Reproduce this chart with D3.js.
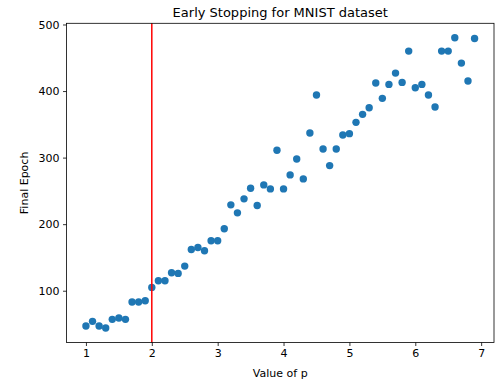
<!DOCTYPE html>
<html>
<head>
<meta charset="utf-8">
<script src="https://cdn.jsdelivr.net/npm/d3@7"></script>
<style>
  body { margin: 0; background: #fff; }
  svg text { font-family: "DejaVu Sans", sans-serif; fill: #000; }
</style>
</head>
<body>
<div id="chart"></div>
<script>
// data
var pValues = [1.0, 1.1, 1.2, 1.3, 1.4, 1.5, 1.6, 1.7, 1.8, 1.9,
               2.0, 2.1, 2.2, 2.3, 2.4, 2.5, 2.6, 2.7, 2.8, 2.9,
               3.0, 3.1, 3.2, 3.3, 3.4, 3.5, 3.6, 3.7, 3.8, 3.9,
               4.0, 4.1, 4.2, 4.3, 4.4, 4.5, 4.6, 4.7, 4.8, 4.9,
               5.0, 5.1, 5.2, 5.3, 5.4, 5.5, 5.6, 5.7, 5.8, 5.9,
               6.0, 6.1, 6.2, 6.3, 6.4, 6.5, 6.6, 6.7, 6.8, 6.9]
var finalEpochs = [47, 54, 47, 44, 57, 59, 57, 83, 83, 85,
                   105, 115, 115, 127, 126, 137, 162, 165, 160, 175,
                   175, 193, 229, 217, 238, 254, 228, 259, 253, 311,
                   253, 274, 298, 268, 337, 394, 313, 288, 313, 334,
                   336, 353, 365, 375, 412, 389, 410, 427, 413, 460,
                   405, 410, 394, 376, 460, 460, 480, 442, 415, 479]
var xTicks = [1, 2, 3, 4, 5, 6, 7]
var yTicks = [100, 200, 300, 400, 500]
var stopAt = 2

var width = 497, height = 381
var margin = { left: 66.5, right: 3, top: 23.3, bottom: 38.5 }

var svg = d3.select("#chart").append("svg")
  .attr("width", width)
  .attr("height", height)

// matplotlib style 5% padding around the data
var xExt = d3.extent(pValues), yExt = d3.extent(finalEpochs)
var xPad = (xExt[1] - xExt[0]) * 0.05, yPad = (yExt[1] - yExt[0]) * 0.05

var x = d3.scaleLinear()
  .domain([xExt[0] - xPad, xExt[1] + xPad])
  .range([margin.left, width - margin.right])
var y = d3.scaleLinear()
  .domain([yExt[0] - yPad, yExt[1] + yPad])
  .range([height - margin.bottom, margin.top])

var points = pValues.map((p, i) => ({ p: p, e: finalEpochs[i] }))

svg.append("g")
  .selectAll("circle")
  .data(points)
  .enter().append("circle")
  .attr("cx", d => x(d.p))
  .attr("cy", d => y(d.e))
  .attr("r", 3.7)
  .attr("fill", "#1f77b4")

svg.append("line")
  .attr("x1", x(stopAt)).attr("x2", x(stopAt))
  .attr("y1", y.range()[0]).attr("y2", y.range()[1])
  .attr("stroke", "red")
  .attr("stroke-width", 1.5)

// frame
svg.append("rect")
  .attr("x", margin.left).attr("y", margin.top)
  .attr("width", width - margin.left - margin.right)
  .attr("height", height - margin.top - margin.bottom)
  .attr("fill", "none")
  .attr("stroke", "#000")
  .attr("stroke-width", 0.8)

var xAxis = svg.append("g")
  .attr("transform", `translate(0,${height - margin.bottom})`)
  .call(d3.axisBottom(x).tickValues(xTicks).tickSize(3.5).tickPadding(3.5).tickFormat(d3.format("d")))
var yAxis = svg.append("g")
  .attr("transform", `translate(${margin.left},0)`)
  .call(d3.axisLeft(y).tickValues(yTicks).tickSize(3.5).tickPadding(3.5).tickFormat(d3.format("d")))

svg.selectAll(".domain").remove()
svg.selectAll(".tick line").attr("stroke", "#000").attr("stroke-width", 0.8)
svg.selectAll(".tick text").style("font-size", "11px").style("font-family", "DejaVu Sans")

svg.append("text")
  .attr("x", (margin.left + width - margin.right) / 2)
  .attr("y", 17)
  .attr("text-anchor", "middle")
  .style("font-size", "13px")
  .text("Early Stopping for MNIST dataset")

svg.append("text")
  .attr("x", (margin.left + width - margin.right) / 2)
  .attr("y", 376.5)
  .attr("text-anchor", "middle")
  .style("font-size", "11px")
  .text("Value of p")

svg.append("text")
  .attr("transform", `translate(27.5,${(margin.top + height - margin.bottom) / 2}) rotate(-90)`)
  .attr("text-anchor", "middle")
  .style("font-size", "11px")
  .text("Final Epoch")
</script>
</body>
</html>
